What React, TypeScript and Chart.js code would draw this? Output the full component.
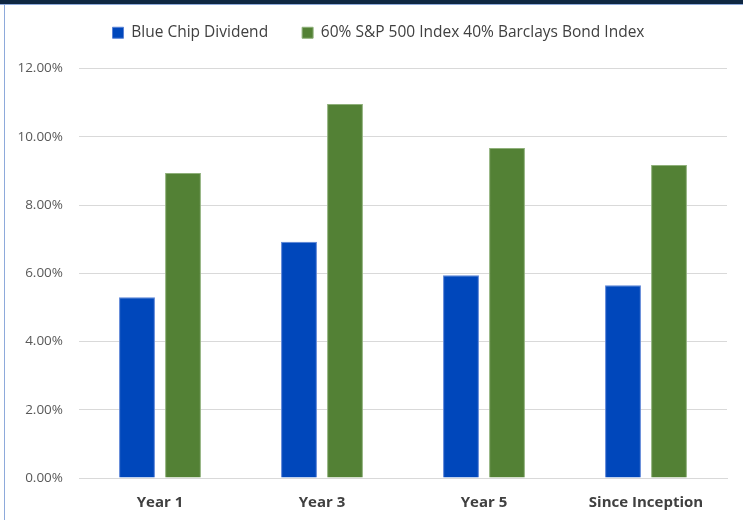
import React, { useEffect, useRef } from "react";
import { Chart, registerables } from "chart.js";

Chart.register(...registerables);

const categories = ["Year 1", "Year 3", "Year 5", "Since Inception"];
const seriesNames = ["Blue Chip Dividend", "60% S&P 500 Index 40% Barclays Bond Index"];
const blueChipValues = [5.3, 6.92, 5.94, 5.65];
const blendValues = [8.94, 10.96, 9.67, 9.17];
const yTicks = [0, 2, 4, 6, 8, 10, 12];

const FONT = "'Open Sans', 'Noto Sans', sans-serif";

const legendSpacing = {
  id: "legendSpacing",
  beforeInit(chart: any) {
    const legend = chart.legend;
    if (!legend) return;
    const origFit = legend.fit;
    legend.fit = function () {
      origFit.call(this);
      this.height += 18;
    };
  },
  afterLayout(chart: any) {
    const legend = chart.legend;
    if (!legend) return;
    legend.left += 15;
    legend.right += 15;
  },
};

export default function App() {
  const ref = useRef<HTMLCanvasElement | null>(null);

  useEffect(() => {
    const prevMargin = document.body.style.margin;
    document.body.style.margin = "0";
    if (!ref.current) return;
    const chart = new Chart(ref.current, {
      type: "bar",
      data: {
        labels: categories,
        datasets: [
          {
            label: seriesNames[0],
            data: blueChipValues,
            backgroundColor: "#0047BB",
            borderColor: "#5a83d6",
            borderWidth: 1,
            categoryPercentage: 0.568,
            barPercentage: 0.78,
          },
          {
            label: seriesNames[1],
            data: blendValues,
            backgroundColor: "#538135",
            borderColor: "#8fb07a",
            borderWidth: 1,
            categoryPercentage: 0.568,
            barPercentage: 0.78,
          },
        ],
      },
      plugins: [legendSpacing],
      options: {
        animation: false,
        responsive: true,
        maintainAspectRatio: false,
        layout: { padding: { top: 5, right: 16, bottom: 0, left: 0 } },
        plugins: {
          legend: {
            position: "top",
            align: "center",
            labels: {
              boxWidth: 11,
              boxHeight: 11,
              padding: 34,
              color: "#404040",
              font: { family: FONT, size: 15.5 },
            },
          },
          tooltip: { enabled: false },
        },
        scales: {
          x: {
            afterFit: (scale: any) => {
              scale.height = 42;
            },
            grid: { display: false, drawTicks: false },
            border: { display: true, color: "#d9d9d9", width: 1 },
            ticks: {
              color: "#404040",
              padding: 16,
              font: { family: FONT, size: 15, weight: "bold" },
            },
          },
          y: {
            min: 0,
            max: 12,
            afterFit: (scale: any) => {
              scale.width = 79;
            },
            afterBuildTicks: (scale: any) => {
              scale.ticks = yTicks.map((v) => ({ value: v }));
            },
            grid: { color: "#d9d9d9", lineWidth: 1, drawTicks: false },
            border: { display: false },
            ticks: {
              color: "#595959",
              padding: 16,
              font: { family: FONT, size: 13.5 },
              callback: (v: any) => Number(v).toFixed(2) + "%",
            },
          },
        },
      },
    });
    return () => {
      chart.destroy();
      document.body.style.margin = prevMargin;
    };
  }, []);

  return (
    <div
      style={{
        position: "fixed",
        left: 0,
        top: 0,
        width: 743,
        height: 520,
        background: "#ffffff",
        overflow: "hidden",
      }}
    >
      <div style={{ position: "absolute", left: 0, top: -14, width: 743, height: 534 }}>
        <canvas ref={ref} />
      </div>
      <div style={{ position: "absolute", left: 0, top: 0, width: 743, height: 4, background: "#0f2742" }} />
      <div style={{ position: "absolute", left: 0, top: 4, width: 743, height: 1, background: "#8eaadb" }} />
      <div style={{ position: "absolute", left: 4, top: 4, width: 1, height: 516, background: "#8eaadb" }} />
    </div>
  );
}
